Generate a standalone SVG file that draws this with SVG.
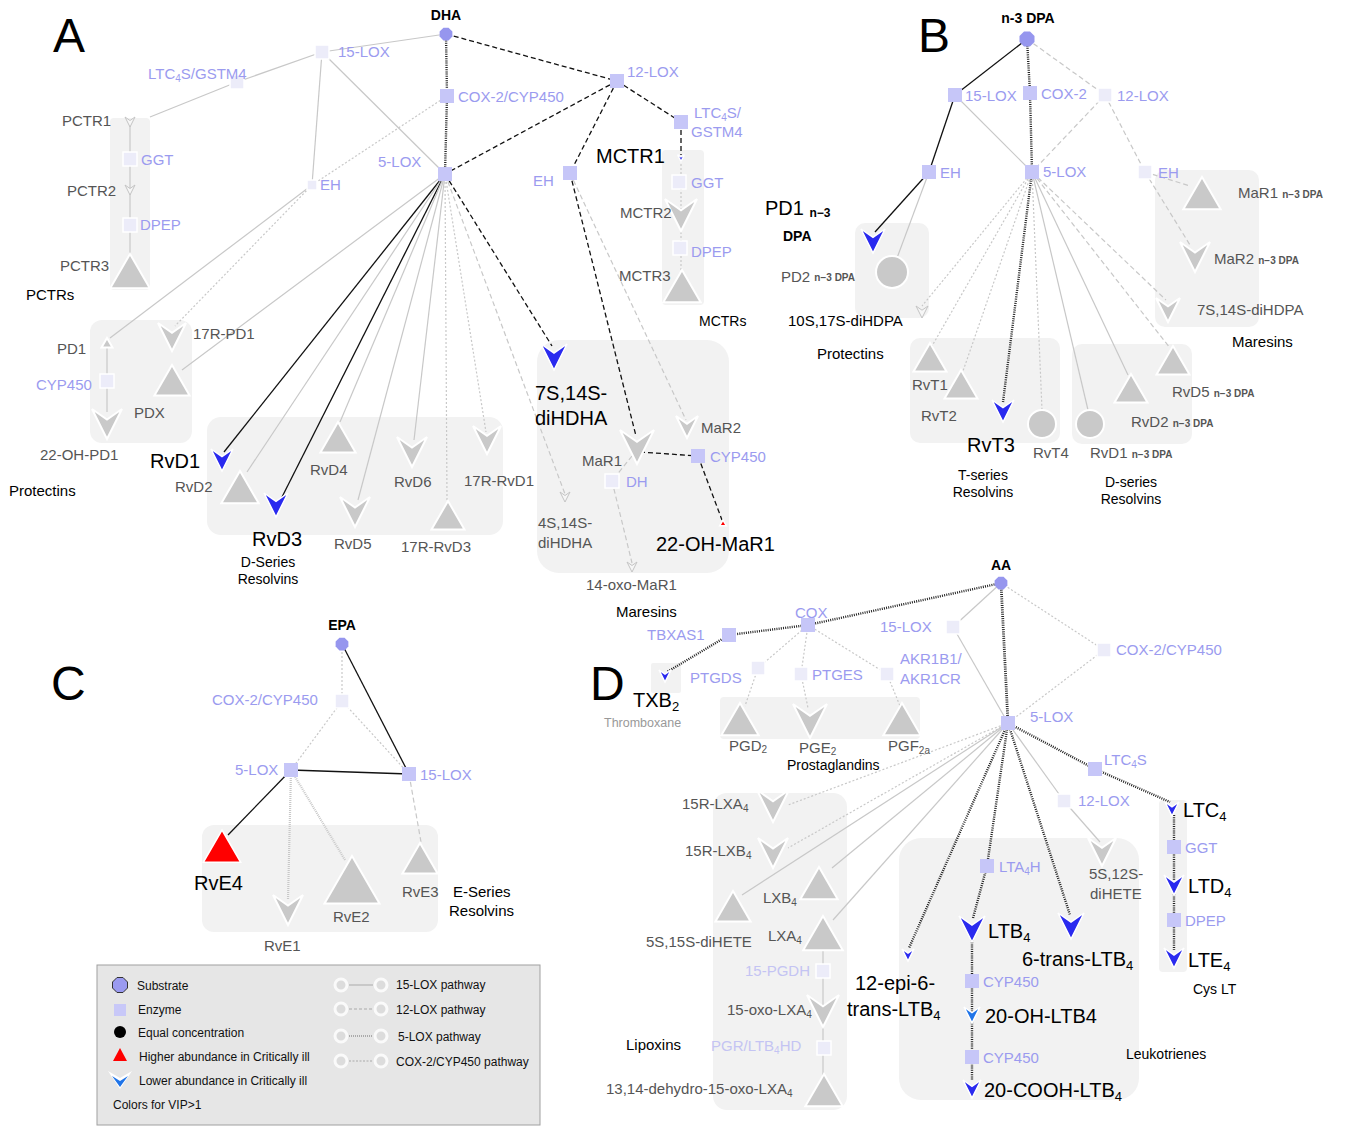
<svg xmlns="http://www.w3.org/2000/svg" xmlns:xlink="http://www.w3.org/1999/xlink" width="1346" height="1126" viewBox="0 0 1346 1126">
<style>
text{font-family:"Liberation Sans",Arial,sans-serif}
.pl{font-size:48px;fill:#000}
.sub{font-size:14px;font-weight:bold;fill:#000}
.enz{font-size:15px;fill:#9b9bef}
.enzf{font-size:15px;fill:#c4c4f3}
.met{font-size:15px;fill:#555}
.big{font-size:20px;fill:#000}
.grp{font-size:15px;fill:#000}
.grp14{font-size:14px;fill:#000}
.lg{font-size:12px;fill:#111}
.box{fill:#f2f2f2}
.g15{stroke:#c8c8c8;stroke-width:1.2;fill:none}
.b15{stroke:#111;stroke-width:1.3;fill:none}
.g12{stroke:#c8c8c8;stroke-width:1.2;stroke-dasharray:5 3;fill:none}
.b12{stroke:#111;stroke-width:1.3;stroke-dasharray:5 3;fill:none}
.g5{stroke:#c8c8c8;stroke-width:2.2;stroke-dasharray:1 1;fill:none}
.b5{stroke:#222;stroke-width:2.4;stroke-dasharray:1 1.2;fill:none}
.gcx{stroke:#c8c8c8;stroke-width:1.2;stroke-dasharray:2 2;fill:none}
.bcx{stroke:#111;stroke-width:1.4;stroke-dasharray:2 1.5;fill:none}
.gn{fill:#c9c9c9;stroke:#fff;stroke-width:2}
.wn{fill:#f6f6f6;stroke:#c4c4c4;stroke-width:1}
.bl{fill:#2a2aef;stroke:#fff;stroke-width:1.5}
.bl2{fill:#1f74e8;stroke:#fff;stroke-width:1.5}
.rd{fill:#f00;stroke:#fff;stroke-width:1.5}
.ez{fill:#c6c6f8}
.ezf{fill:#ececf9;stroke:#fff;stroke-width:1.5}
.subs{fill:#9696ee}
</style>
<defs>
<path id="chev" d="M-10,-10 L0,-3 L10,-10 L0,10 Z" vector-effect="non-scaling-stroke"/>
<path id="tri" d="M0,-10 L11,9 L-11,9 Z" vector-effect="non-scaling-stroke"/>
<rect id="enz" x="-7" y="-7" width="14" height="14"/>
<polygon id="oct" points="-3,-7.5 3,-7.5 7.5,-3 7.5,3 3,7.5 -3,7.5 -7.5,3 -7.5,-3"/>
</defs>
<rect width="1346" height="1126" fill="#fff"/>

<!-- panel letters -->
<text class="pl" x="53" y="52">A</text>
<text class="pl" x="918" y="52">B</text>
<text class="pl" x="51" y="700">C</text>
<text class="pl" x="590" y="700">D</text>

<!-- background group boxes -->
<g id="boxes">
<rect class="box" x="110" y="118" width="40" height="172" rx="4"/>
<rect class="box" x="662" y="150" width="42" height="155" rx="4"/>
<rect class="box" x="90" y="320" width="102" height="123" rx="12"/>
<rect class="box" x="207" y="417" width="296" height="118" rx="14"/>
<rect class="box" x="537" y="340" width="192" height="233" rx="22"/>
<rect class="box" x="855" y="223" width="74" height="95" rx="10"/>
<rect class="box" x="1155" y="170" width="104" height="157" rx="10"/>
<rect class="box" x="910" y="338" width="150" height="105" rx="10"/>
<rect class="box" x="1072" y="344" width="120" height="100" rx="10"/>
<rect class="box" x="202" y="825" width="236" height="107" rx="12"/>
<rect class="box" x="651" y="663" width="30" height="30" rx="2"/>
<rect class="box" x="720" y="697" width="200" height="42" rx="4"/>
<rect class="box" x="713" y="793" width="134" height="317" rx="14"/>
<rect class="box" x="899" y="838" width="240" height="262" rx="22"/>
<rect class="box" x="1159" y="800" width="28" height="172" rx="4"/>
</g>

<g id="connectors">
<!-- A -->
<line class="g15" x1="446" y1="34" x2="322" y2="52"/>
<line class="g15" x1="322" y1="52" x2="237" y2="82"/>
<line class="g15" x1="237" y1="82" x2="150" y2="117"/>
<line class="g15" x1="322" y1="52" x2="312" y2="185"/>
<line class="g15" x1="322" y1="52" x2="445" y2="174"/>
<line class="b5" x1="446" y1="34" x2="447" y2="96"/>
<line class="b5" x1="447" y1="96" x2="445" y2="174"/>
<line class="b12" x1="446" y1="34" x2="617" y2="81"/>
<line class="b12" x1="617" y1="81" x2="445" y2="174"/>
<line class="b12" x1="617" y1="81" x2="570" y2="173"/>
<line class="b12" x1="617" y1="81" x2="681" y2="122"/>
<line class="b12" x1="681" y1="122" x2="681" y2="155"/>
<line class="gcx" x1="447" y1="96" x2="312" y2="185"/>
<line class="g15" x1="312" y1="185" x2="110" y2="338"/>
<line class="gcx" x1="312" y1="185" x2="175" y2="326"/>
<line class="g15" x1="445" y1="174" x2="182" y2="370"/>
<line class="g15" x1="107" y1="345" x2="107" y2="412"/>
<line class="b15" x1="445" y1="174" x2="224" y2="452"/>
<line class="g15" x1="445" y1="174" x2="247" y2="472"/>
<line class="b15" x1="445" y1="174" x2="282" y2="497"/>
<line class="g15" x1="445" y1="174" x2="340" y2="422"/>
<line class="g15" x1="445" y1="174" x2="358" y2="500"/>
<line class="g15" x1="445" y1="174" x2="414" y2="440"/>
<line class="gcx" x1="445" y1="174" x2="447" y2="500"/>
<line class="gcx" x1="445" y1="174" x2="486" y2="432"/>
<line class="g12" x1="445" y1="174" x2="565" y2="494"/>
<line class="b12" x1="445" y1="174" x2="552" y2="346"/>
<line class="b12" x1="570" y1="173" x2="636" y2="436"/>
<line class="g12" x1="570" y1="173" x2="686" y2="420"/>
<line class="b12" x1="640" y1="452" x2="698" y2="456"/>
<line class="b12" x1="698" y1="456" x2="722" y2="520"/>
<line class="g12" x1="632" y1="456" x2="612" y2="481"/>
<line class="g12" x1="612" y1="481" x2="632" y2="563"/>
<line class="g15" x1="130" y1="125" x2="130" y2="260"/>
<line class="gcx" x1="681" y1="160" x2="681" y2="270"/>
<!-- B -->
<line class="b15" x1="1027" y1="39" x2="955" y2="95"/>
<line class="b5" x1="1027" y1="39" x2="1030" y2="93"/>
<line class="g12" x1="1027" y1="39" x2="1105" y2="95"/>
<line class="b15" x1="955" y1="95" x2="929" y2="172"/>
<line class="g15" x1="955" y1="95" x2="1032" y2="172"/>
<line class="b5" x1="1030" y1="93" x2="1032" y2="172"/>
<line class="g12" x1="1105" y1="95" x2="1032" y2="172"/>
<line class="g12" x1="1105" y1="95" x2="1145" y2="172"/>
<line class="b15" x1="929" y1="172" x2="875" y2="232"/>
<line class="g15" x1="929" y1="172" x2="897" y2="258"/>
<line class="g12" x1="1145" y1="172" x2="1190" y2="186"/>
<line class="g12" x1="1145" y1="172" x2="1190" y2="245"/>
<line class="gcx" x1="1032" y1="172" x2="922" y2="306"/>
<line class="gcx" x1="1032" y1="172" x2="932" y2="346"/>
<line class="gcx" x1="1032" y1="172" x2="962" y2="374"/>
<line class="b5" x1="1032" y1="172" x2="1003" y2="402"/>
<line class="gcx" x1="1032" y1="172" x2="1042" y2="410"/>
<line class="g15" x1="1032" y1="172" x2="1088" y2="410"/>
<line class="g15" x1="1032" y1="172" x2="1128" y2="375"/>
<line class="g12" x1="1032" y1="172" x2="1170" y2="348"/>
<line class="g12" x1="1032" y1="172" x2="1166" y2="300"/>
<!-- C -->
<line class="gcx" x1="342" y1="644" x2="342" y2="701"/>
<line class="b15" x1="342" y1="644" x2="409" y2="774"/>
<line class="gcx" x1="342" y1="701" x2="291" y2="770"/>
<line class="gcx" x1="342" y1="701" x2="409" y2="774"/>
<line class="b15" x1="291" y1="770" x2="409" y2="774"/>
<line class="b15" x1="291" y1="770" x2="228" y2="835"/>
<line class="g5" x1="291" y1="770" x2="288" y2="900"/>
<line class="g5" x1="291" y1="770" x2="345" y2="860"/>
<line class="g12" x1="409" y1="774" x2="421" y2="842"/>
<!-- D -->
<line class="b5" x1="1001" y1="583" x2="808" y2="625"/>
<line class="b5" x1="808" y1="625" x2="729" y2="635"/>
<line class="b5" x1="729" y1="635" x2="667" y2="672"/>
<line class="gcx" x1="808" y1="625" x2="758" y2="668"/>
<line class="gcx" x1="808" y1="625" x2="801" y2="674"/>
<line class="gcx" x1="808" y1="625" x2="887" y2="674"/>
<line class="gcx" x1="758" y1="668" x2="745" y2="706"/>
<line class="gcx" x1="801" y1="674" x2="808" y2="708"/>
<line class="gcx" x1="887" y1="674" x2="900" y2="706"/>
<line class="g15" x1="1001" y1="583" x2="953" y2="627"/>
<line class="g15" x1="953" y1="627" x2="1008" y2="723"/>
<line class="b5" x1="1001" y1="583" x2="1008" y2="723" style="stroke-width:2.8"/>
<line class="gcx" x1="1001" y1="583" x2="1104" y2="650"/>
<line class="gcx" x1="1104" y1="650" x2="1008" y2="723"/>
<line class="b5" x1="1008" y1="723" x2="1095" y2="769"/>
<line class="b5" x1="1095" y1="769" x2="1170" y2="802"/>
<line class="g15" x1="1008" y1="723" x2="1064" y2="801"/>
<line class="g15" x1="1064" y1="801" x2="1100" y2="842"/>
<line class="b5" x1="1008" y1="723" x2="909" y2="948"/>
<line class="b5" x1="1008" y1="723" x2="987" y2="866"/>
<line class="b5" x1="987" y1="866" x2="973" y2="918"/>
<line class="b5" x1="1008" y1="723" x2="1070" y2="915"/>
<line class="b5" x1="972" y1="940" x2="972" y2="1080"/>
<line class="b5" x1="1174" y1="815" x2="1174" y2="950"/>
<line class="gcx" x1="1008" y1="723" x2="788" y2="805"/>
<line class="gcx" x1="1008" y1="723" x2="788" y2="848"/>
<line class="g15" x1="1008" y1="723" x2="832" y2="868"/>
<line class="g15" x1="1008" y1="723" x2="742" y2="895"/>
<line class="g15" x1="1008" y1="723" x2="833" y2="920"/>
<line class="g15" x1="823" y1="950" x2="823" y2="1078"/>
</g>

<!-- ===== Panel A nodes ===== -->
<g id="DHA"><use href="#oct" class="subs" transform="translate(446 34) scale(0.85)"/><text class="sub" x="446" y="20" text-anchor="middle">DHA</text></g>
<g id="A-15LOX"><use href="#enz" class="ezf" x="322" y="52"/><text class="enz" x="338" y="57">15-LOX</text></g>
<g id="A-LTC4S-GSTM4"><use href="#enz" class="ezf" x="237" y="82"/><text class="enz" x="148" y="79">LTC<tspan font-size="10" dy="3">4</tspan><tspan dy="-3">S/GSTM4</tspan></text></g>
<g id="A-COX2"><use href="#enz" class="ez" x="447" y="96"/><text class="enz" x="458" y="102">COX-2/CYP450</text></g>
<g id="A-12LOX"><use href="#enz" class="ez" x="617" y="81"/><text class="enz" x="627" y="77">12-LOX</text></g>
<g id="A-LTC4S-2"><use href="#enz" class="ez" x="681" y="122"/><text class="enz" x="694" y="118">LTC<tspan font-size="10" dy="3">4</tspan><tspan dy="-3">S/</tspan></text><text class="enz" x="691" y="137">GSTM4</text></g>
<g id="A-5LOX"><use href="#enz" class="ez" x="445" y="174"/><text class="enz" x="378" y="167">5-LOX</text></g>
<g id="A-EH1"><rect class="ezf" x="307" y="180" width="10" height="10"/><text class="enz" x="320" y="190">EH</text></g>
<g id="A-EH2"><use href="#enz" class="ez" x="570" y="173"/><text class="enz" x="533" y="186">EH</text></g>
<g id="PCTR1"><use href="#chev" class="wn" transform="translate(130 122) scale(0.5)"/><text class="met" x="62" y="126">PCTR1</text></g>
<g id="A-GGT"><use href="#enz" class="ezf" x="130" y="159"/><text class="enz" x="141" y="165">GGT</text></g>
<g id="PCTR2"><use href="#chev" class="wn" transform="translate(130 190) scale(0.5)"/><text class="met" x="67" y="196">PCTR2</text></g>
<g id="A-DPEP"><use href="#enz" class="ezf" x="130" y="225"/><text class="enz" x="140" y="230">DPEP</text></g>
<g id="PCTR3"><use href="#tri" class="gn" transform="translate(130 272) scale(1.8)"/><text class="met" x="60" y="271">PCTR3</text></g>
<text class="grp" x="26" y="300">PCTRs</text>
<g id="MCTR1"><use href="#chev" class="bl" transform="translate(681 158) scale(0.35)"/><text class="big" x="596" y="163">MCTR1</text></g>
<g id="A-GGT2"><use href="#enz" class="ezf" x="679" y="182"/><text class="enz" x="691" y="188">GGT</text></g>
<g id="MCTR2"><use href="#chev" class="gn" transform="translate(681 215) scale(1.6)"/><text class="met" x="620" y="218">MCTR2</text></g>
<g id="A-DPEP2"><use href="#enz" class="ezf" x="680" y="248"/><text class="enz" x="691" y="257">DPEP</text></g>
<g id="MCTR3"><use href="#tri" class="gn" transform="translate(682 287) scale(1.7)"/><text class="met" x="619" y="281">MCTR3</text></g>
<text class="grp14" x="699" y="326">MCTRs</text>
<g id="PD1"><use href="#tri" class="gn" transform="translate(107 343) scale(0.5)"/><text class="met" x="57" y="354">PD1</text></g>
<g id="A-CYP450"><use href="#enz" class="ezf" x="107" y="381"/><text class="enz" x="36" y="390">CYP450</text></g>
<g id="OH-PD1"><use href="#chev" class="gn" transform="translate(107 424) scale(1.5)"/><text class="met" x="40" y="460">22-OH-PD1</text></g>
<g id="R-PD1"><use href="#chev" class="gn" transform="translate(172 337) scale(1.4)"/><text class="met" x="193" y="339">17R-PD1</text></g>
<g id="PDX"><use href="#tri" class="gn" transform="translate(172 381) scale(1.6)"/><text class="met" x="134" y="418">PDX</text></g>
<text class="grp" x="9" y="496">Protectins</text>
<g id="RvD1"><use href="#chev" class="bl" transform="translate(222 460) scale(1.1)"/><text class="big" x="150" y="468">RvD1</text></g>
<g id="RvD2"><use href="#tri" class="gn" transform="translate(240 488) scale(1.7)"/><text class="met" x="175" y="492">RvD2</text></g>
<g id="RvD3"><use href="#chev" class="bl" transform="translate(276 505) scale(1.2)"/><text class="big" x="252" y="546">RvD3</text></g>
<g id="RvD4"><use href="#tri" class="gn" transform="translate(338 438) scale(1.6)"/><text class="met" x="310" y="475">RvD4</text></g>
<g id="RvD5"><use href="#chev" class="gn" transform="translate(355 512) scale(1.5)"/><text class="met" x="334" y="549">RvD5</text></g>
<g id="RvD6"><use href="#chev" class="gn" transform="translate(412 452) scale(1.5)"/><text class="met" x="394" y="487">RvD6</text></g>
<g id="R-RvD3"><use href="#tri" class="gn" transform="translate(448 516) scale(1.5)"/><text class="met" x="401" y="552">17R-RvD3</text></g>
<g id="R-RvD1"><use href="#chev" class="gn" transform="translate(487 440) scale(1.4)"/><text class="met" x="464" y="486">17R-RvD1</text></g>
<text class="grp14" x="268" y="567" text-anchor="middle">D-Series</text>
<text class="grp14" x="268" y="584" text-anchor="middle">Resolvins</text>
<g id="diHDHA7S"><use href="#chev" class="bl" transform="translate(554 357) scale(1.3)"/><text class="big" x="535" y="400">7S,14S-</text><text class="big" x="535" y="425">diHDHA</text></g>
<g id="MaR1"><use href="#chev" class="gn" transform="translate(637 447) scale(1.7)"/><text class="met" x="582" y="466">MaR1</text></g>
<g id="A-DH"><use href="#enz" class="ezf" x="612" y="481"/><text class="enz" x="626" y="487">DH</text></g>
<g id="MaR2"><use href="#chev" class="gn" transform="translate(687 427) scale(1.1)"/><text class="met" x="701" y="433">MaR2</text></g>
<g id="A-CYP450b"><use href="#enz" class="ez" x="698" y="456"/><text class="enz" x="710" y="462">CYP450</text></g>
<g id="OH-MaR1"><use href="#tri" class="rd" transform="translate(723 523) scale(0.3)"/><text class="big" x="656" y="551">22-OH-MaR1</text></g>
<g id="diHDHA4S"><use href="#chev" class="wn" transform="translate(565 497) scale(0.5)"/><text class="met" x="538" y="528">4S,14S-</text><text class="met" x="538" y="548">diHDHA</text></g>
<g id="oxo-MaR1"><use href="#chev" class="wn" transform="translate(632 567) scale(0.5)"/><text class="met" x="586" y="590">14-oxo-MaR1</text></g>
<text class="grp" x="616" y="617">Maresins</text>

<!-- ===== Panel B nodes ===== -->
<g id="DPA"><use href="#oct" class="subs" transform="translate(1027 39)"/><text class="sub" x="1028" y="23" text-anchor="middle">n-3 DPA</text></g>
<g id="B-15LOX"><use href="#enz" class="ez" x="955" y="95"/><text class="enz" x="965" y="101">15-LOX</text></g>
<g id="B-COX2"><use href="#enz" class="ez" x="1030" y="93"/><text class="enz" x="1041" y="99">COX-2</text></g>
<g id="B-12LOX"><use href="#enz" class="ezf" x="1105" y="95"/><text class="enz" x="1117" y="101">12-LOX</text></g>
<g id="B-EH"><use href="#enz" class="ez" x="929" y="172"/><text class="enz" x="940" y="178">EH</text></g>
<g id="B-5LOX"><use href="#enz" class="ez" x="1032" y="172"/><text class="enz" x="1043" y="177">5-LOX</text></g>
<g id="B-EH2"><use href="#enz" class="ezf" x="1145" y="172"/><text class="enz" x="1158" y="178">EH</text></g>
<g id="B-PD1"><use href="#chev" class="bl" transform="translate(873 241) scale(1.2)"/><text class="big" x="765" y="215">PD1 <tspan font-size="12" font-weight="bold" dy="2">n−3</tspan></text><text class="sub" x="783" y="241">DPA</text></g>
<g id="B-PD2"><circle class="gn" cx="892" cy="272" r="16"/><text class="met" x="781" y="282">PD2 <tspan font-size="10" font-weight="bold" dy="-1">n−3 DPA</tspan></text></g>
<g id="diHDPA10S"><use href="#chev" class="wn" transform="translate(922 312) scale(0.6)"/><text class="grp" x="788" y="326">10S,17S-diHDPA</text></g>
<text class="grp" x="817" y="359">Protectins</text>
<g id="B-MaR1"><use href="#tri" class="gn" transform="translate(1202 194) scale(1.7)"/><text class="met" x="1238" y="198">MaR1 <tspan font-size="10" font-weight="bold">n−3 DPA</tspan></text></g>
<g id="B-MaR2"><use href="#chev" class="gn" transform="translate(1195 257) scale(1.5)"/><text class="met" x="1214" y="264">MaR2 <tspan font-size="10" font-weight="bold">n−3 DPA</tspan></text></g>
<g id="diHDPA7S"><use href="#chev" class="gn" transform="translate(1168 310) scale(1.2)"/><text class="met" x="1197" y="315">7S,14S-diHDPA</text></g>
<text class="grp" x="1232" y="347">Maresins</text>
<g id="RvT1"><use href="#tri" class="gn" transform="translate(930 358) scale(1.5)"/><text class="met" x="912" y="390">RvT1</text></g>
<g id="RvT2"><use href="#tri" class="gn" transform="translate(961 385) scale(1.5)"/><text class="met" x="921" y="421">RvT2</text></g>
<g id="RvT3"><use href="#chev" class="bl" transform="translate(1003 411) scale(1.1)"/><text class="big" x="967" y="452">RvT3</text></g>
<g id="RvT4"><circle class="gn" cx="1042" cy="424" r="14"/><text class="met" x="1033" y="458">RvT4</text></g>
<text class="grp14" x="983" y="480" text-anchor="middle">T-series</text>
<text class="grp14" x="983" y="497" text-anchor="middle">Resolvins</text>
<g id="B-RvD1"><circle class="gn" cx="1090" cy="424" r="14"/><text class="met" x="1090" y="458">RvD1 <tspan font-size="10" font-weight="bold">n−3 DPA</tspan></text></g>
<g id="B-RvD2"><use href="#tri" class="gn" transform="translate(1131 389) scale(1.5)"/><text class="met" x="1131" y="427">RvD2 <tspan font-size="10" font-weight="bold">n−3 DPA</tspan></text></g>
<g id="B-RvD5"><use href="#tri" class="gn" transform="translate(1173 361) scale(1.5)"/><text class="met" x="1172" y="397">RvD5 <tspan font-size="10" font-weight="bold">n−3 DPA</tspan></text></g>
<text class="grp14" x="1131" y="487" text-anchor="middle">D-series</text>
<text class="grp14" x="1131" y="504" text-anchor="middle">Resolvins</text>

<!-- ===== Panel C nodes ===== -->
<g id="EPA"><use href="#oct" class="subs" transform="translate(342 644) scale(0.85)"/><text class="sub" x="342" y="630" text-anchor="middle">EPA</text></g>
<g id="C-COX2"><use href="#enz" class="ezf" x="342" y="701"/><text class="enz" x="212" y="705">COX-2/CYP450</text></g>
<g id="C-5LOX"><use href="#enz" class="ez" x="291" y="770"/><text class="enz" x="235" y="775">5-LOX</text></g>
<g id="C-15LOX"><use href="#enz" class="ez" x="409" y="774"/><text class="enz" x="420" y="780">15-LOX</text></g>
<g id="RvE4"><use href="#tri" class="rd" transform="translate(222 847) scale(1.7)"/><text class="big" x="194" y="890">RvE4</text></g>
<g id="RvE1"><use href="#chev" class="gn" transform="translate(288 910) scale(1.5)"/><text class="met" x="264" y="951">RvE1</text></g>
<g id="RvE2"><use href="#tri" class="gn" transform="translate(352 881) scale(2.5)"/><text class="met" x="333" y="922">RvE2</text></g>
<g id="RvE3"><use href="#tri" class="gn" transform="translate(420 859) scale(1.6)"/><text class="met" x="402" y="897">RvE3</text></g>
<text class="grp" x="453" y="897">E-Series</text>
<text class="grp" x="449" y="916">Resolvins</text>

<!-- ===== Legend ===== -->
<g id="legend">
<rect x="97" y="965" width="443" height="160" fill="#e6e6e6" stroke="#a0a0a0" stroke-width="1"/>
<use href="#oct" transform="translate(120 985)" fill="#9a9af0" stroke="#333" stroke-width="1"/>
<text class="lg" x="137" y="990">Substrate</text>
<rect x="114" y="1004" width="12" height="12" fill="#c8c8f8"/>
<text class="lg" x="138" y="1014">Enzyme</text>
<circle cx="120" cy="1032" r="6" fill="#000"/>
<text class="lg" x="138" y="1037">Equal concentration</text>
<path d="M120,1048 L127,1061 L113,1061 Z" fill="#f00"/>
<text class="lg" x="139" y="1061">Higher abundance in Critically ill</text>
<path d="M108,1071 L120,1078 L132,1071 L120,1089 Z" fill="#fff"/>
<path d="M112,1076 L120,1081 L128,1076 L120,1087 Z" fill="#1f74e8"/>
<text class="lg" x="139" y="1085">Lower abundance in Critically ill</text>
<text class="lg" x="113" y="1109">Colors for VIP&gt;1</text>
<g fill="#dcdcdc" stroke="#fafafa" stroke-width="3">
<circle cx="341" cy="985" r="6"/><circle cx="381" cy="985" r="6"/>
<circle cx="341" cy="1009" r="6"/><circle cx="381" cy="1009" r="6"/>
<circle cx="341" cy="1036" r="6"/><circle cx="381" cy="1036" r="6"/>
<circle cx="341" cy="1061" r="6"/><circle cx="381" cy="1061" r="6"/>
</g>
<line x1="349" y1="985" x2="373" y2="985" stroke="#aaa" stroke-width="1"/>
<line x1="349" y1="1009" x2="373" y2="1009" stroke="#aaa" stroke-width="1" stroke-dasharray="3 2"/>
<line x1="349" y1="1036" x2="373" y2="1036" stroke="#aaa" stroke-width="2" stroke-dasharray="1 1"/>
<line x1="349" y1="1061" x2="373" y2="1061" stroke="#aaa" stroke-width="1" stroke-dasharray="2 1.5"/>
<text class="lg" x="396" y="989">15-LOX pathway</text>
<text class="lg" x="396" y="1014">12-LOX pathway</text>
<text class="lg" x="398" y="1041">5-LOX pathway</text>
<text class="lg" x="396" y="1066">COX-2/CYP450 pathway</text>
</g>

<!-- ===== Panel D nodes ===== -->
<g id="AA"><use href="#oct" class="subs" transform="translate(1001 583) scale(0.85)"/><text class="sub" x="1001" y="570" text-anchor="middle">AA</text></g>
<g id="D-COX"><use href="#enz" class="ez" x="808" y="625"/><text class="enz" x="795" y="618">COX</text></g>
<g id="D-TBXAS1"><use href="#enz" class="ez" x="729" y="635"/><text class="enz" x="647" y="640">TBXAS1</text></g>
<g id="D-15LOX"><use href="#enz" class="ezf" x="953" y="627"/><text class="enz" x="880" y="632">15-LOX</text></g>
<g id="D-COX2"><use href="#enz" class="ezf" x="1104" y="650"/><text class="enz" x="1116" y="655">COX-2/CYP450</text></g>
<g id="D-PTGDS"><use href="#enz" class="ezf" x="758" y="668"/><text class="enz" x="690" y="683">PTGDS</text></g>
<g id="D-PTGES"><use href="#enz" class="ezf" x="801" y="674"/><text class="enz" x="812" y="680">PTGES</text></g>
<g id="D-AKR"><use href="#enz" class="ezf" x="887" y="674"/><text class="enz" x="900" y="664">AKR1B1/</text><text class="enz" x="900" y="684">AKR1CR</text></g>
<g id="TXB2"><use href="#chev" class="bl" transform="translate(665 676) scale(0.6)"/><text class="big" x="633" y="707">TXB<tspan font-size="13" dy="4">2</tspan></text><text x="604" y="727" font-size="12.5" fill="#999">Thromboxane</text></g>
<g id="PGD2"><use href="#tri" class="gn" transform="translate(740 720) scale(1.7)"/><text class="met" x="729" y="751">PGD<tspan font-size="10" dy="2">2</tspan></text></g>
<g id="PGE2"><use href="#chev" class="gn" transform="translate(810 721) scale(1.7)"/><text class="met" x="799" y="753">PGE<tspan font-size="10" dy="2">2</tspan></text></g>
<g id="PGF2a"><use href="#tri" class="gn" transform="translate(902 720) scale(1.7)"/><text class="met" x="888" y="751">PGF<tspan font-size="10" dy="3">2a</tspan></text></g>
<text class="grp14" x="787" y="770">Prostaglandins</text>
<g id="D-5LOX"><use href="#enz" class="ez" x="1008" y="723"/><text class="enz" x="1030" y="722">5-LOX</text></g>
<g id="D-LTC4S"><use href="#enz" class="ez" x="1095" y="769"/><text class="enz" x="1104" y="765">LTC<tspan font-size="10" dy="3">4</tspan><tspan dy="-3">S</tspan></text></g>
<g id="D-12LOX"><use href="#enz" class="ezf" x="1064" y="801"/><text class="enz" x="1078" y="806">12-LOX</text></g>
<g id="R-LXA4"><use href="#chev" class="gn" transform="translate(773 806) scale(1.6)"/><text class="met" x="682" y="809">15R-LXA<tspan font-size="10" dy="3">4</tspan></text></g>
<g id="R-LXB4"><use href="#chev" class="gn" transform="translate(773 853) scale(1.5)"/><text class="met" x="685" y="856">15R-LXB<tspan font-size="10" dy="3">4</tspan></text></g>
<g id="LXB4"><use href="#tri" class="gn" transform="translate(819 884) scale(1.7)"/><text class="met" x="763" y="903">LXB<tspan font-size="10" dy="3">4</tspan></text></g>
<g id="diHETE5S15S"><use href="#tri" class="gn" transform="translate(733 907) scale(1.6)"/><text class="met" x="646" y="947">5S,15S-diHETE</text></g>
<g id="LXA4"><use href="#tri" class="gn" transform="translate(823 934) scale(1.8)"/><text class="met" x="768" y="941">LXA<tspan font-size="10" dy="3">4</tspan></text></g>
<g id="D-15PGDH"><use href="#enz" class="ezf" x="823" y="971"/><text class="enzf" x="745" y="976">15-PGDH</text></g>
<g id="oxo-LXA4"><use href="#chev" class="gn" transform="translate(823 1011) scale(1.6)"/><text class="met" x="727" y="1015">15-oxo-LXA<tspan font-size="10" dy="3">4</tspan></text></g>
<g id="D-PGR"><use href="#enz" class="ezf" x="824" y="1048"/><text class="enzf" x="711" y="1051">PGR/LTB<tspan font-size="10" dy="3">4</tspan><tspan dy="-3">HD</tspan></text></g>
<text class="grp" x="626" y="1050">Lipoxins</text>
<g id="dehydro"><use href="#tri" class="gn" transform="translate(824 1091) scale(1.7)"/><text class="met" x="606" y="1094">13,14-dehydro-15-oxo-LXA<tspan font-size="10" dy="3">4</tspan></text></g>
<g id="epi-LTB4"><use href="#chev" class="bl" transform="translate(908 955) scale(0.6)"/><text class="big" x="855" y="990">12-epi-6-</text><text class="big" x="847" y="1016">trans-LTB<tspan font-size="13" dy="4">4</tspan></text></g>
<g id="D-LTA4H"><use href="#enz" class="ez" x="987" y="866"/><text class="enz" x="999" y="872">LTA<tspan font-size="10" dy="3">4</tspan><tspan dy="-3">H</tspan></text></g>
<g id="LTB4"><use href="#chev" class="bl" transform="translate(972 929) scale(1.3)"/><text class="big" x="988" y="938">LTB<tspan font-size="13" dy="4">4</tspan></text></g>
<g id="D-CYP450a"><use href="#enz" class="ez" x="972" y="981"/><text class="enz" x="983" y="987">CYP450</text></g>
<g id="OH-LTB4"><use href="#chev" class="bl2" transform="translate(972 1015) scale(0.8)"/><text class="big" x="985" y="1023">20-OH-LTB4</text></g>
<g id="D-CYP450b"><use href="#enz" class="ez" x="972" y="1057"/><text class="enz" x="983" y="1063">CYP450</text></g>
<g id="COOH-LTB4"><use href="#chev" class="bl" transform="translate(972 1089) scale(0.9)"/><text class="big" x="984" y="1097">20-COOH-LTB<tspan font-size="13" dy="4">4</tspan></text></g>
<g id="trans-LTB4"><use href="#chev" class="bl" transform="translate(1071 926) scale(1.3)"/><text class="big" x="1022" y="966">6-trans-LTB<tspan font-size="13" dy="4">4</tspan></text></g>
<g id="diHETE5S12S"><use href="#chev" class="gn" transform="translate(1102 852) scale(1.4)"/><text class="met" x="1089" y="879">5S,12S-</text><text class="met" x="1090" y="899">diHETE</text></g>
<text class="grp14" x="1126" y="1059">Leukotrienes</text>
<g id="LTC4"><use href="#chev" class="bl" transform="translate(1172 809) scale(0.7)"/><text class="big" x="1183" y="817">LTC<tspan font-size="13" dy="4">4</tspan></text></g>
<g id="D-GGT"><use href="#enz" class="ez" x="1174" y="847"/><text class="enz" x="1185" y="853">GGT</text></g>
<g id="LTD4"><use href="#chev" class="bl" transform="translate(1174 885) scale(1.0)"/><text class="big" x="1188" y="893">LTD<tspan font-size="13" dy="4">4</tspan></text></g>
<g id="D-DPEP"><use href="#enz" class="ez" x="1174" y="920"/><text class="enz" x="1185" y="926">DPEP</text></g>
<g id="LTE4"><use href="#chev" class="bl" transform="translate(1174 958) scale(1.0)"/><text class="big" x="1188" y="967">LTE<tspan font-size="13" dy="4">4</tspan></text></g>
<text class="grp14" x="1193" y="994">Cys LT</text>
</svg>
